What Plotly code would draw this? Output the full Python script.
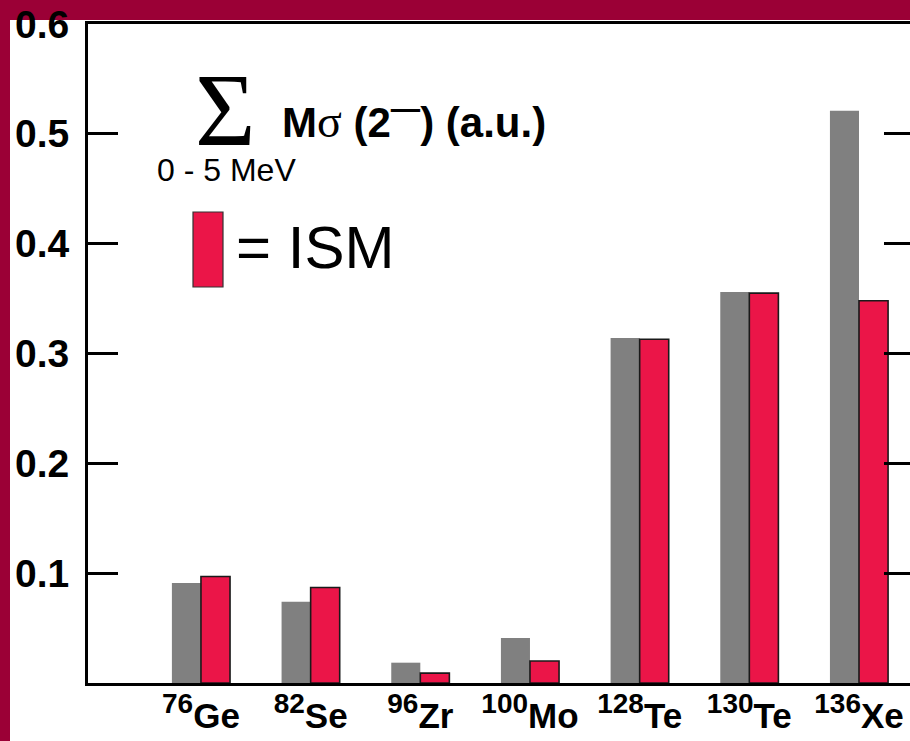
import plotly.graph_objects as go

# ---- data ----
isotopes = ["Ge", "Se", "Zr", "Mo", "Te", "Te", "Xe"]
mass_numbers = ["76", "82", "96", "100", "128", "130", "136"]
experiment = [0.091, 0.074, 0.0185, 0.041, 0.314, 0.356, 0.521]
ism = [0.097, 0.087, 0.009, 0.020, 0.313, 0.355, 0.348]
y_ticks = [0.1, 0.2, 0.3, 0.4, 0.5, 0.6]

GRAY = "#808080"
RED = "#EB1548"
MAROON = "#9B0036"
W, H = 910, 741
ML, MR, MT, MB = 88, 0, 24, 58
PW, PH = W - ML - MR, H - MT - MB


def px(x):
    return (x - ML) / PW


def py(y):
    return (H - MB - y) / PH


xs = list(range(len(isotopes)))
tick_text = ["<b><sup><span style='font-size:28px'>%s</span></sup>%s</b>" % (a, s)
             for a, s in zip(mass_numbers, isotopes)]

fig = go.Figure()
fig.add_trace(go.Bar(x=xs, y=experiment, marker=dict(color=GRAY, line=dict(width=0)),
                     showlegend=False))
fig.add_trace(go.Bar(x=xs, y=ism, marker=dict(color=RED, line=dict(color="#1a1a1a", width=1.6)),
                     showlegend=False))
# invisible trace to carry the mirrored right-hand tick axis
fig.add_trace(go.Scatter(x=[xs[0]], y=[y_ticks[0]], yaxis="y2", mode="markers",
                         marker=dict(opacity=0), showlegend=False, hoverinfo="skip"))

font_b = "Liberation Sans"
fig.update_layout(
    width=W, height=H,
    margin=dict(l=ML, r=MR, t=MT, b=MB, pad=0),
    paper_bgcolor="white", plot_bgcolor="white",
    barmode="group", bargap=0.47, bargroupgap=0,
    xaxis=dict(range=[-1.03, 6.465], tickvals=xs, ticktext=tick_text,
               showline=True, linecolor="black", linewidth=3, mirror=True,
               ticks="", showgrid=False, zeroline=False,
               tickfont=dict(family=font_b, size=35, color="black"), ticklabelstandoff=0),
    yaxis=dict(range=[0, 0.6], tickvals=y_ticks, ticktext=["<b>%.1f</b>" % v for v in y_ticks],
               showline=True, linecolor="black", linewidth=3,
               ticks="inside", ticklen=30, tickwidth=3, tickcolor="black",
               showgrid=False, zeroline=False,
               tickfont=dict(family=font_b, size=39, color="black"), ticklabelstandoff=8),
    yaxis2=dict(range=[0, 0.6], overlaying="y", side="right", anchor="x",
                tickvals=y_ticks, showticklabels=False, showline=False,
                ticks="inside", ticklen=26, tickwidth=3, tickcolor="black",
                showgrid=False, zeroline=False),
)

# slide frame (maroon stripes at left and top)
fig.add_shape(type="rect", xref="paper", yref="paper", x0=px(0), x1=px(10), y0=py(H), y1=py(0),
              fillcolor=MAROON, line=dict(width=0), layer="below")
fig.add_shape(type="rect", xref="paper", yref="paper", x0=px(0), x1=px(W), y0=py(20), y1=py(0),
              fillcolor=MAROON, line=dict(width=0), layer="below")

# legend swatch
fig.add_shape(type="rect", xref="paper", yref="paper", x0=px(193), x1=px(223), y0=py(287), y1=py(212),
              fillcolor=RED, line=dict(color="#333333", width=1.2))

fig.add_annotation(xref="paper", yref="paper", x=px(225), y=py(110), text="Σ", showarrow=False,
                   xanchor="center", yanchor="middle",
                   font=dict(family="Liberation Serif", size=104, color="black"))
fig.add_annotation(xref="paper", yref="paper", x=px(280), y=py(120),
                   text="<b>M</b><span style='font-family:Liberation Serif;font-size:46px'>σ</span><b> (2<sup>—</sup>) (a.u.)</b>",
                   showarrow=False, xanchor="left", yanchor="middle",
                   font=dict(family=font_b, size=42, color="black"))
fig.add_annotation(xref="paper", yref="paper", x=px(155), y=py(170), text="0 - 5 MeV", showarrow=False,
                   xanchor="left", yanchor="middle",
                   font=dict(family=font_b, size=32, color="black"))
fig.add_annotation(xref="paper", yref="paper", x=px(234), y=py(248), text="= ISM", showarrow=False,
                   xanchor="left", yanchor="middle",
                   font=dict(family=font_b, size=60, color="black"))

fig.write_html("out.html", config={"displayModeBar": False})

# remove the default page margin so the figure sits at the window's corner
with open("out.html", encoding="utf-8") as f:
    html = f.read()
html = html.replace("<head>", "<head><style>html,body{margin:0;padding:0;overflow:hidden}</style>", 1)
with open("out.html", "w", encoding="utf-8") as f:
    f.write(html)
